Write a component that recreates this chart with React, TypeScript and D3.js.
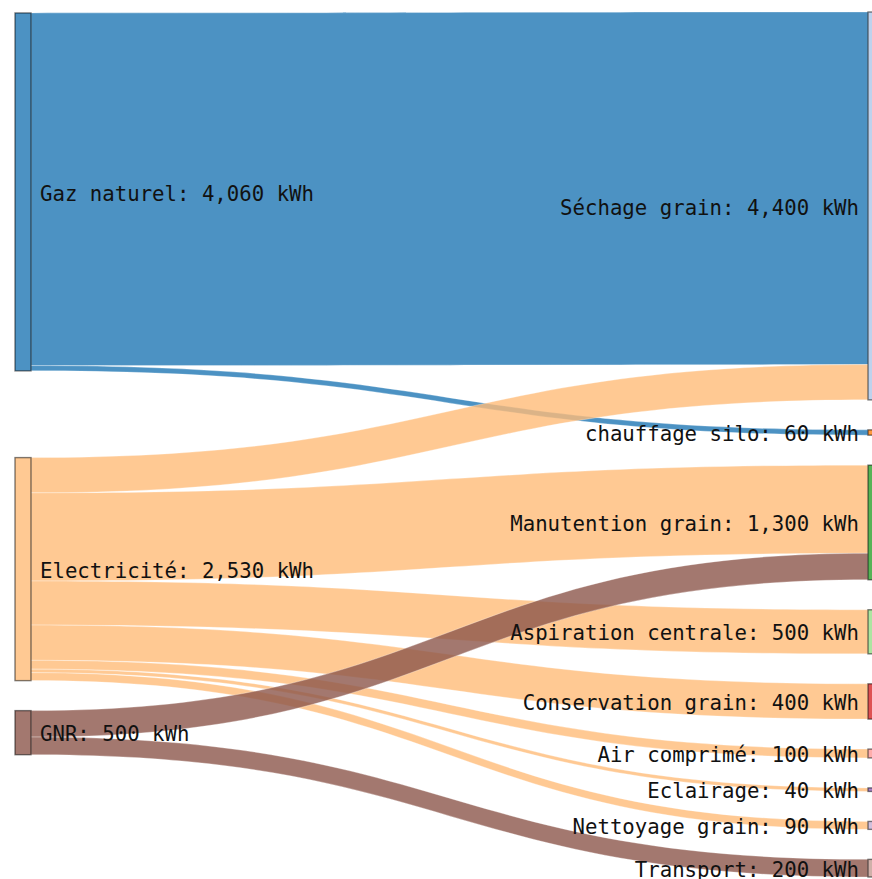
import React from "react";
import * as d3 from "d3";

const nodeNames = [
  "Gaz naturel", "Séchage grain", "chauffage silo", "Electricité",
  "Manutention grain", "Aspiration centrale", "Conservation grain",
  "Air comprimé", "Eclairage", "Nettoyage grain", "GNR", "Transport",
];
const nodeColors = [
  "#1f77b4", "#aec7e8", "#ff7f0e", "#ffbb78", "#2ca02c", "#98df8a",
  "#d62728", "#ff9896", "#9467bd", "#c5b0d5", "#8c564b", "#c49c94",
];
const linkSources = [0, 0, 3, 3, 3, 3, 3, 3, 3, 10, 10];
const linkTargets = [1, 2, 1, 4, 5, 6, 7, 8, 9, 4, 11];
const linkValues = [4000, 60, 400, 1000, 500, 400, 100, 40, 90, 300, 200];
const unit = "kWh";

const W = 872, H = 879;
const TOP = 12, BOTTOM = 877, GAP = 30;
const LEFT_X = 15, RIGHT_X = 868, NODE_W = 16;

type N = { i: number; name: string; color: string; value: number; side: number; y0: number; y1: number };
type L = { s: number; t: number; v: number; sy0: number; sy1: number; ty0: number; ty1: number; idx: number };

function layout() {
  const nodes: N[] = nodeNames.map((name, i) => {
    const out = d3.sum(linkValues.filter((_, j) => linkSources[j] === i));
    const inn = d3.sum(linkValues.filter((_, j) => linkTargets[j] === i));
    return { i, name, color: nodeColors[i], value: Math.max(out, inn), side: out > 0 ? 0 : 1, y0: 0, y1: 0 };
  });
  const links: L[] = linkValues.map((v, j) => ({ s: linkSources[j], t: linkTargets[j], v, sy0: 0, sy1: 0, ty0: 0, ty1: 0, idx: j }));
  const right = nodes.filter((n) => n.side === 1);
  const left = nodes.filter((n) => n.side === 0);
  const total = d3.sum(right, (n) => n.value);
  const k = (BOTTOM - TOP - (right.length - 1) * GAP) / total;
  let y = TOP;
  right.forEach((n) => { n.y0 = y; n.y1 = y + n.value * k; y = n.y1 + GAP; });
  right.forEach((n) => {
    let off = n.y0;
    links.filter((l) => l.t === n.i).sort((a, b) => a.s - b.s).forEach((l) => {
      l.ty0 = off; l.ty1 = off + l.v * k; off = l.ty1;
    });
  });
  left.forEach((n) => {
    const ls = links.filter((l) => l.s === n.i);
    const c = d3.sum(ls, (l) => ((l.ty0 + l.ty1) / 2) * l.v) / d3.sum(ls, (l) => l.v);
    const h = n.value * k;
    n.y0 = c - h / 2; n.y1 = c + h / 2;
  });
  const sorted = left.slice().sort((a, b) => a.y0 - b.y0);
  let prev = TOP - GAP;
  sorted.forEach((n) => {
    const h = n.y1 - n.y0;
    if (n.y0 < prev + GAP) { n.y0 = prev + GAP; n.y1 = n.y0 + h; }
    prev = n.y1;
  });
  left.forEach((n) => {
    let off = n.y0;
    links.filter((l) => l.s === n.i).sort((a, b) => nodes[a.t].y0 - nodes[b.t].y0).forEach((l) => {
      l.sy0 = off; l.sy1 = off + l.v * k; off = l.sy1;
    });
  });
  return { nodes, links };
}

function linkPath(l: L) {
  const x0 = LEFT_X + NODE_W, x1 = RIGHT_X;
  const xi = d3.interpolateNumber(x0, x1);
  const x2 = xi(0.5), x3 = xi(0.5);
  return `M${x0},${l.sy0}C${x2},${l.sy0} ${x3},${l.ty0} ${x1},${l.ty0}L${x1},${l.ty1}C${x3},${l.ty1} ${x2},${l.sy1} ${x0},${l.sy1}Z`;
}

const fmt = d3.format(",");

export default function App() {
  const { nodes, links } = layout();
  return (
    <svg width={W} height={H} style={{ position: "absolute", left: 0, top: 0, background: "white" }}>
      <g>
        {links.map((l) => (
          <path key={l.idx} d={linkPath(l)} fill={nodes[l.s].color} fillOpacity={0.8}
            stroke="white" strokeOpacity={0.6} strokeWidth={0.5} />
        ))}
      </g>
      <g>
        {nodes.map((n) => (
          <rect key={n.i} x={n.side === 0 ? LEFT_X : RIGHT_X} y={n.y0} width={NODE_W} height={Math.max(1, n.y1 - n.y0)}
            fill={n.color} fillOpacity={0.8} stroke="#000" strokeOpacity={0.5} strokeWidth={1.4} />
        ))}
      </g>
      <g fontFamily="'DejaVu Sans Mono', monospace" fontSize={20.7} fill="#111">
        {nodes.map((n) => (
          <text key={n.i} x={n.side === 0 ? LEFT_X + NODE_W + 9 : RIGHT_X - 9} y={(n.y0 + n.y1) / 2}
            dy="0.42em" textAnchor={n.side === 0 ? "start" : "end"}>
            {`${n.name}: ${fmt(n.value)} ${unit}`}
          </text>
        ))}
      </g>
    </svg>
  );
}
